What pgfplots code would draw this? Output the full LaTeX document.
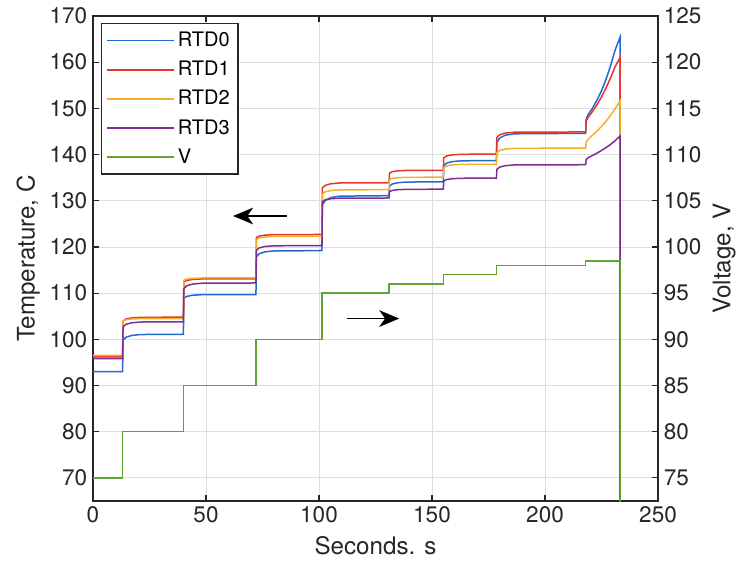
\documentclass[border=0pt]{standalone}
\usepackage{fontspec}
\setmainfont{TeX Gyre Heros}
\usepackage{pgfplots}
\pgfplotsset{compat=1.18}
\usetikzlibrary{arrows.meta}

\definecolor{cA}{HTML}{2468D4}
\definecolor{cB}{HTML}{E6352A}
\definecolor{cC}{HTML}{F5AE2C}
\definecolor{cD}{HTML}{7E2F8E}
\definecolor{cE}{HTML}{5FA532}
\definecolor{axc}{HTML}{262626}

% seconds vs temperature (C)
\pgfplotstableread{
t T
0 93.0
13.1 93.0
13.3 99.8
14.6 100.45
17.1 100.84
21.1 101.04
40.0 101.1
40.2 108.9
41.5 109.3
44 109.54
48 109.66
72.1 109.7
72.3 117.9
73.6 118.55
76.1 118.94
80.1 119.14
101.3 119.2
101.5 129.1
102.8 130.1
105.3 130.7
109.3 131.0
131 131.1
131.2 133.2
132.5 133.65
135 133.92
139 134.05
155 134.1
155.2 137.6
156.5 138.15
159 138.48
163 138.65
178.5 138.7
178.7 142.6
180 143.6
182.5 144.2
186.5 144.5
218 144.6
218.2 147.6
219 148.6
221 150.0
223 151.8
225 153.8
227 156.3
229 159.2
231 162.6
233.2 165.4
233.3 20
}\rtda

\pgfplotstableread{
t T
0 96.2
13.1 96.2
13.3 104.0
14.6 104.4
17.1 104.64
21.1 104.76
40 104.8
40.2 112.4
41.5 112.75
44 112.96
48 113.07
72.1 113.1
72.3 122.0
73.6 122.35
76.1 122.56
80.1 122.67
101.3 122.7
101.5 132.8
102.8 133.35
105.3 133.68
109.3 133.85
131 133.9
131.2 136.0
132.5 136.3
135 136.48
139 136.57
155 136.6
155.2 139.3
156.5 139.7
159 139.94
163 140.06
178.5 140.1
178.7 143.7
180 144.3
182.5 144.66
186.5 144.84
218 144.9
218.2 147.2
219 148.0
221 149.3
223 150.8
225 152.5
227 154.4
229 156.6
231 159.0
233.2 161.0
233.3 20
}\rtdb

\pgfplotstableread{
t T
0 96.5
13.1 96.5
13.3 104.0
14.6 104.25
17.1 104.4
21.1 104.48
40 104.5
40.2 112.8
41.5 113.05
44 113.2
48 113.28
72.1 113.3
72.3 121.6
73.6 121.95
76.1 122.16
80.1 122.27
101.3 122.3
101.5 131.5
102.8 131.95
105.3 132.22
109.3 132.36
131 132.4
131.2 134.6
132.5 134.85
135 135.0
139 135.08
155 135.1
155.2 137.2
156.5 137.55
159 137.76
163 137.87
178.5 137.9
178.7 140.4
180 140.9
182.5 141.2
186.5 141.35
218 141.4
218.2 142.6
219 143.3
221 144.2
223 145.1
225 146.1
227 147.2
229 148.5
231 149.9
233.2 151.6
233.3 20
}\rtdc

\pgfplotstableread{
t T
0 95.8
13.1 95.8
13.3 102.7
14.6 103.25
17.1 103.58
21.1 103.75
40 103.8
40.2 111.0
41.5 111.6
44 111.96
48 112.14
72.1 112.2
72.3 119.3
73.6 119.8
76.1 120.1
80.1 120.25
101.3 120.3
101.5 129.8
102.8 130.2
105.3 130.44
109.3 130.56
131 130.6
131.2 132.0
132.5 132.25
135 132.4
139 132.48
155 132.5
155.2 134.3
156.5 134.6
159 134.78
163 134.87
178.5 134.9
178.7 136.8
180 137.3
182.5 137.6
186.5 137.75
218 137.8
218.2 138.9
219 139.3
221 139.8
223 140.3
225 140.9
227 141.5
229 142.2
231 143.0
233.2 144.0
233.3 20
}\rtdd

% seconds vs voltage (V)
\pgfplotstableread{
t V
0 75
13.1 75
13.1 80
40 80
40 85
72.1 85
72.1 90
101.3 90
101.3 95
131 95
131 96
155 96
155 97
178.5 97
178.5 98
218 98
218 98.5
233.3 98.5
233.3 60
}\volt

\pgfplotsset{
  every axis/.append style={
    scale only axis, width=339pt, height=291pt,
    xmin=0, xmax=250,
    font=\fontsize{13.5}{16}\selectfont,
    tick align=inside, major tick length=3.5pt,
    axis line style={axc, line width=0.7pt},
    every tick/.style={axc, line width=0.7pt},
    tick label style={text=axc},
    label style={text=axc, font=\fontsize{14.5}{17}\selectfont},
    /pgf/number format/assume math mode=true,
  },
}

\begin{document}
\begin{tikzpicture}
\begin{axis}[
  ymin=65, ymax=170,
  ytick={70,80,...,170},
  xtick={0,50,...,250},
  xtick pos=both, ytick pos=left,
  grid=major,
  grid style={line width=0.5pt, draw=black!13},
  xlabel={Seconds. s},
  ylabel={Temperature, C},
  xlabel style={yshift=-1pt},
  ylabel style={yshift=-1pt},
  legend style={at={(0.014,0.985)}, anchor=north west, draw=axc,
    line width=0.7pt, font=\fontsize{12}{14}\selectfont,
    row sep=3.2pt, inner xsep=3pt, inner ysep=3pt},
  legend cell align=left,
  legend image code/.code={\draw[#1] (0pt,0pt) -- (40pt,0pt);},
]
\addplot[cA, line width=0.9pt] table[x=t, y=T] {\rtda};
\addlegendentry{RTD0}
\addplot[cB, line width=0.9pt] table[x=t, y=T] {\rtdb};
\addlegendentry{RTD1}
\addplot[cC, line width=0.9pt] table[x=t, y=T] {\rtdc};
\addlegendentry{RTD2}
\addplot[cD, line width=0.9pt] table[x=t, y=T] {\rtdd};
\addlegendentry{RTD3}
\addlegendimage{cE, line width=0.9pt}
\addlegendentry{V}
\draw[-{Stealth[length=12pt,width=10pt,inset=3.5pt]}, line width=1pt]
  (axis cs:85.7,126.7) -- (axis cs:62,126.7);
\draw[-{Stealth[length=12pt,width=10pt,inset=3.5pt]}, line width=1pt]
  (axis cs:112.2,104.5) -- (axis cs:135.5,104.5);
\end{axis}
\begin{axis}[
  ymin=72.5, ymax=125,
  ytick={75,80,...,125},
  hide x axis,
  axis y line*=right,
  ylabel={Voltage, V},
]
\addplot[cE, line width=0.9pt] table[x=t, y=V] {\volt};
\end{axis}
\pgfresetboundingbox
\path[use as bounding box] (-55.8pt,-39pt) rectangle (387.6pt,300.6pt);
\end{tikzpicture}
\end{document}
